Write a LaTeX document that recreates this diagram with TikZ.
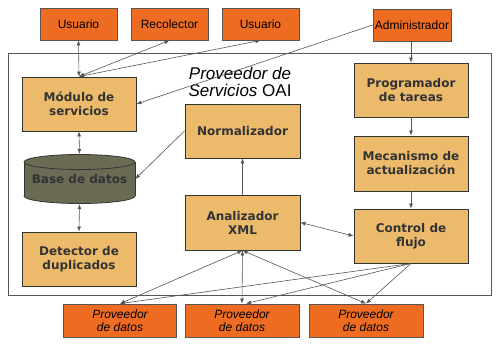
\documentclass[tikz,border=0pt]{standalone}
\usepackage{fontspec}
\setmainfont{Liberation Sans}
\newfontfamily\boxfont{DejaVu Sans}
\usetikzlibrary{arrows.meta}
\definecolor{orangebox}{HTML}{EE6B22}
\definecolor{tanbox}{HTML}{ECBA6B}
\definecolor{dbfill}{HTML}{6B6A55}
\definecolor{txtdark}{HTML}{333333}
\definecolor{linegray}{HTML}{555555}
\tikzset{
  topbox/.style={draw=linegray, line width=0.8pt, fill=orangebox, minimum width=77pt, minimum height=32pt, inner sep=0pt, font=\fontsize{12}{14}\selectfont},
  provbox/.style={draw=linegray, line width=0.8pt, fill=orangebox, minimum width=114pt, minimum height=33pt, inner sep=0pt, align=center, font=\fontsize{12}{13}\selectfont\itshape},
  tbox/.style={draw=txtdark, line width=0.9pt, fill=tanbox, minimum width=114pt, minimum height=54pt, inner sep=0pt, align=center, text=txtdark, font=\boxfont\bfseries\fontsize{12}{14}\selectfont},
  conn/.style={draw=linegray, line width=0.6pt},
  tip/.tip={Latex[length=5pt,width=4pt]},
}
\begin{document}
\begin{tikzpicture}[x=1pt,y=-1pt]
\useasboundingbox (0,0) rectangle (500,343);
% frame
\draw[linegray, line width=0.9pt] (8,53) rectangle (491,295);
% top boxes
\node[topbox] (u1) at (78.5,24) {Usuario};
\node[topbox] (rec) at (169.5,24) {Recolector};
\node[topbox] (u2) at (260.5,24) {Usuario};
\node[topbox, minimum width=78pt] (adm) at (412,25) {Administrador};
% title
\node[align=center, font=\fontsize{17}{17}\selectfont\itshape] (title) at (240,82) {Proveedor de\\Servicios {\upshape OAI}};
% inner boxes
\node[tbox] (mod) at (79,104) {Módulo de\\servicios};
\node[tbox, minimum width=115pt] (norm) at (242.5,131) {Normalizador};
\node[tbox] (prog) at (411,90) {Programador\\de tareas};
\node[tbox, minimum height=55pt] (mec) at (411,163.5) {Mecanismo de\\actualización};
\node[tbox] (ctl) at (411,236) {Control de\\flujo};
\node[tbox, minimum width=115pt, minimum height=55pt] (ana) at (242.5,222.5) {Analizador\\XML};
\node[tbox] (det) at (79,259) {Detector de\\duplicados};
% database cylinder
\fill[dbfill, draw=txtdark, line width=0.8pt] (79.5,196) ellipse [x radius=55.5, y radius=7.5];
\fill[dbfill] (24,162) rectangle (135,196);
\draw[txtdark, line width=0.8pt] (24,162) -- (24,196) (135,162) -- (135,196);
\fill[dbfill, draw=txtdark, line width=0.8pt] (79.5,162) ellipse [x radius=55.5, y radius=7.5];
\node[minimum width=111pt, minimum height=50pt, inner sep=0pt, text=txtdark, font=\boxfont\bfseries\fontsize{12}{14}\selectfont] (db) at (79.5,179) {Base de datos};
% provider boxes
\node[provbox, minimum width=113pt] (p1) at (120,320.5) {Proveedor\\de datos};
\node[provbox] (p2) at (242,320.5) {Proveedor\\de datos};
\node[provbox] (p3) at (366,320.5) {Proveedor\\de datos};
% connectors
\draw[conn, {tip}-{tip}] (u1.south) -- (mod.north);
\draw[conn, {tip}-{tip}] (rec.south) -- (mod.north);
\draw[conn, {tip}-{tip}] (u2.south) -- (mod.north);
\draw[conn, -{tip}] (adm.west) -- (mod.east);
\draw[conn, -{tip}] (adm.south -| prog.north) -- (prog.north);
\draw[conn, -{tip}] (prog.south) -- (mec.north);
\draw[conn, -{tip}] (mec.south) -- (ctl.north);
\draw[conn, {tip}-{tip}] (mod.south) -- (db.north);
\draw[conn, {tip}-{tip}] (db.south) -- (det.north);
\draw[conn, -{tip}] (norm.west) -- (db.east);
\draw[conn, -{tip}] (ana.north) -- (norm.south);
\draw[conn, {tip}-{tip}] (ana.east) -- (ctl.west);
\draw[conn, {tip}-{tip}] (ana.south) -- (p1.north);
\draw[conn, {tip}-{tip}] (ana.south) -- (p2.north);
\draw[conn, {tip}-{tip}] (ana.south) -- (p3.north);
\draw[conn, -{tip}] (ctl.south) -- (p1.north);
\draw[conn, -{tip}] (ctl.south) -- ([xshift=4pt]p2.north);
\draw[conn, -{tip}] (ctl.south) -- (p3.north);
\end{tikzpicture}
\end{document}
